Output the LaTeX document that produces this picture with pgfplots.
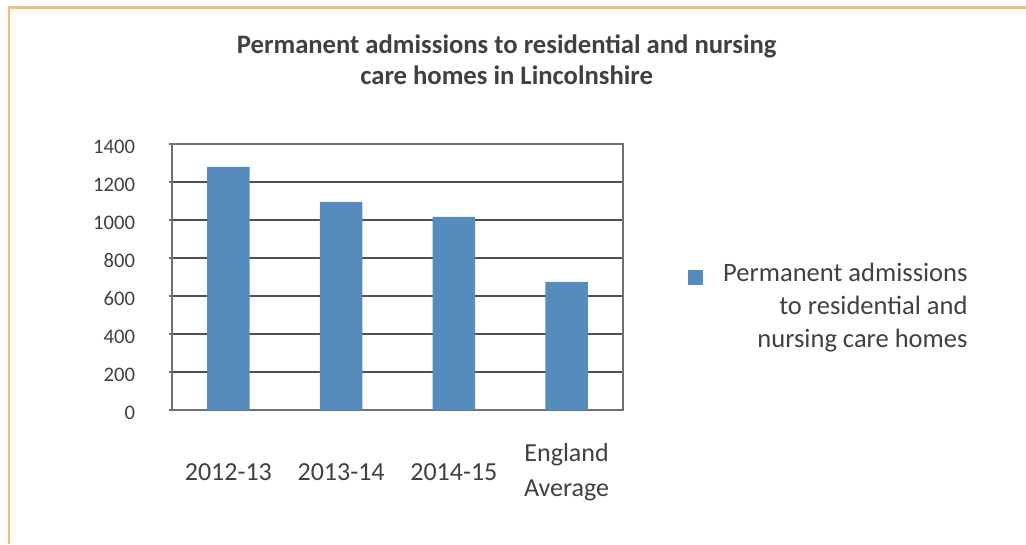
\documentclass[border=0pt]{standalone}
\usepackage{fontspec}
\setmainfont{Carlito}
\usepackage{pgfplots}
\pgfplotsset{compat=1.18}
\definecolor{barblue}{RGB}{86,139,189}
\definecolor{txt}{RGB}{64,64,64}
\definecolor{framecol}{RGB}{244,190,122}
\definecolor{gridcol}{RGB}{80,80,80}
\definecolor{axiscol}{RGB}{112,112,112}
\begin{document}
\begin{tikzpicture}[x=1pt,y=1pt]
\useasboundingbox (0,0) rectangle (769.5,408);
\draw[framecol, line width=1.6pt] (6.75,0) -- (6.75,402.4) -- (769.5,402.4);
\node[font=\fontsize{20}{23.3}\selectfont\bfseries, text=txt, align=center] at (380,363.4) {Permanent admissions to residential and nursing\\care homes in Lincolnshire};
\begin{axis}[
  at={(129pt,100.5pt)}, anchor=south west,
  scale only axis, width=338.25pt, height=199.5pt,
  xmin=-0.5, xmax=3.5, ymin=0, ymax=1400,
  ytick={0,200,400,600,800,1000,1200,1400},
  xtick={0,1,2,3},
  xticklabels={2012-13,2013-14,2014-15,{England\\Average}},
  /pgf/number format/assume math mode=true,
  /pgf/number format/set thousands separator={},
  ymajorgrids, grid style={gridcol, line width=0.8pt},
  axis line style={axiscol, line width=0.9pt},
  tick align=outside, major tick length=2.5pt,
  xtick style={draw=none}, ytick style={axiscol, line width=0.8pt},
  ytick pos=left, xtick pos=bottom,
  yticklabel style={font=\fontsize{15.5}{18}\selectfont, text=txt, inner sep=0pt, anchor=east, xshift=-25pt, yshift=-2pt},
  xticklabel style={font=\fontsize{19.5}{26}\selectfont, text=txt, align=center, anchor=center, yshift=-44pt},
  legend style={draw=none, fill=none, inner sep=0pt, at={(1.144,0.570)}, anchor=north west,
    font=\fontsize{19.9}{24.75}\selectfont, text=txt, nodes={inner sep=0pt}, column sep=15pt},
  legend cell align=right,
  legend image code/.code={\fill[barblue] (0pt,-10.5pt) rectangle (11.25pt,0.75pt);},
]
\addplot[ybar, bar width=32pt, fill=barblue, draw=none] coordinates {(0,1280) (1,1095) (2,1016) (3,674)};
\addlegendentry{\begin{tabular}[t]{@{}r@{}}Permanent admissions\\to residential and\\nursing care homes\end{tabular}}
\end{axis}
\end{tikzpicture}
\end{document}
